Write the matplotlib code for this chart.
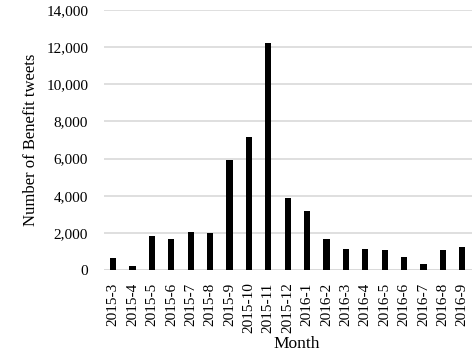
import matplotlib
matplotlib.use("Agg")
import matplotlib.pyplot as plt

months = ["2015-3", "2015-4", "2015-5", "2015-6", "2015-7", "2015-8", "2015-9",
          "2015-10", "2015-11", "2015-12", "2016-1", "2016-2", "2016-3", "2016-4",
          "2016-5", "2016-6", "2016-7", "2016-8", "2016-9"]
tweets = [630, 230, 1850, 1670, 2030, 1980, 5930, 7160, 12240, 3860, 3200,
          1650, 1130, 1130, 1100, 700, 300, 1080, 1240]
yticks = [0, 2000, 4000, 6000, 8000, 10000, 12000, 14000]

plt.rcParams['font.family'] = ['Liberation Serif', 'DejaVu Serif']

fig = plt.figure(figsize=(4.73, 3.58), dpi=100)
ax = fig.add_axes([103.5 / 473, 1 - 270 / 358, (472 - 103.5) / 473, 260 / 358])

x = list(range(len(months)))
ax.bar(x, tweets, width=0.32, color='black', zorder=3)
ax.set_xlim(-0.5, len(months) - 0.5)
ax.set_ylim(0, 14000)
ax.set_yticks(yticks)
ax.set_yticklabels([f"{v:,}" for v in yticks], fontsize=11)
ax.set_xticks(x)
ax.set_xticklabels(months, rotation=90, fontsize=11)
ax.tick_params(axis='both', length=0)
ax.tick_params(axis='y', pad=11)
ax.tick_params(axis='x', pad=9)
ax.grid(axis='y', color='#d9d9d9', linewidth=1.2, zorder=0)
for s in ax.spines.values():
    s.set_visible(False)
ax.axhline(0, color='#d9d9d9', linewidth=1.2, zorder=1)
ax.set_ylabel("Number of Benefit tweets", fontsize=12, labelpad=5)
ax.set_xlabel("Month", fontsize=12.5)
ax.xaxis.set_label_coords((297 - 103.5) / (472 - 103.5), -(344 - 270) / 260)
ax.xaxis.label.set_va('center')

fig.savefig("out.png", dpi=100, facecolor='white')
